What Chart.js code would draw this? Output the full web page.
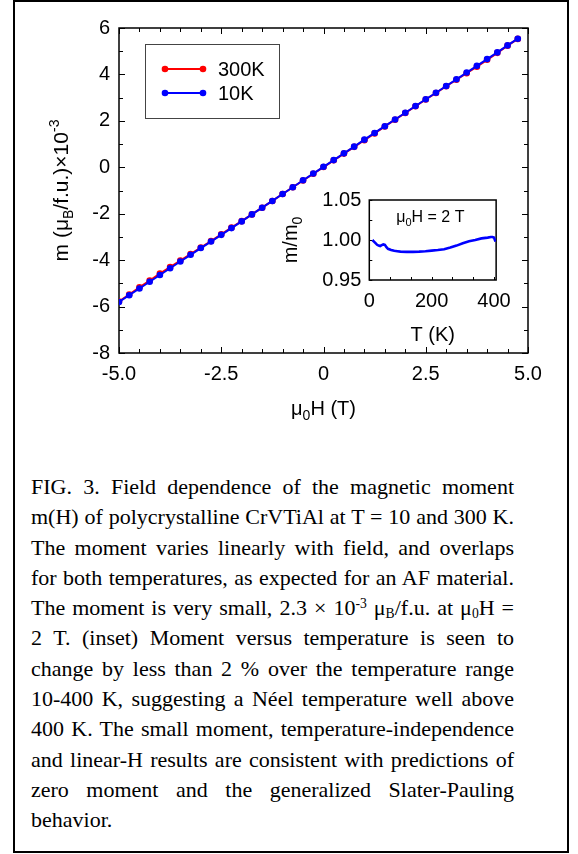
<!DOCTYPE html>
<html><head><meta charset="utf-8">
<script src="https://cdn.jsdelivr.net/npm/chart.js@4/dist/chart.umd.min.js"></script>
<style>
html,body{margin:0;padding:0;background:#fff;}
body{width:578px;height:854px;position:relative;overflow:hidden;}
#frame{position:absolute;left:13px;top:0;width:556px;height:853px;border:2px solid #000;box-sizing:border-box;}
#main{position:absolute;left:0;top:0;}
#inset{position:absolute;left:270px;top:180px;}
#cap{position:absolute;left:31px;top:472px;width:483px;font-family:"Liberation Serif","Times New Roman",serif;font-size:22px;line-height:30.3px;color:#000;}
#cap div{text-align:justify;text-align-last:justify;}
#cap div.last{text-align:left;text-align-last:left;}
#cap sup,#cap sub{font-size:0.62em;line-height:0;position:relative;vertical-align:baseline;}
#cap sup{top:-0.55em;}
#cap sub{top:0.2em;}
</style>
</head>
<body>
<div id="frame"></div>
<canvas id="main" width="578" height="460" style="width:578px;height:460px"></canvas>
<canvas id="inset" width="250" height="170" style="width:250px;height:170px"></canvas>
<div id="cap">
<div>FIG. 3. Field dependence of the magnetic moment</div>
<div>m(H) of polycrystalline CrVTiAl at T = 10 and 300 K.</div>
<div>The moment varies linearly with field, and overlaps</div>
<div>for both temperatures, as expected for an AF material.</div>
<div>The moment is very small, 2.3 × 10<sup>-3</sup> μ<sub>B</sub>/f.u. at μ<sub>0</sub>H =</div>
<div>2 T. (inset) Moment versus temperature is seen to</div>
<div>change by less than 2 % over the temperature range</div>
<div>10-400 K, suggesting a Néel temperature well above</div>
<div>400 K. The small moment, temperature-independence</div>
<div>and linear-H results are consistent with predictions of</div>
<div>zero moment and the generalized Slater-Pauling</div>
<div class="last">behavior.</div>
</div>
<script>
// ---------- data ----------
const fieldT = [-5.00,-4.75,-4.50,-4.25,-4.00,-3.75,-3.50,-3.25,-3.00,-2.75,
                -2.50,-2.25,-2.00,-1.75,-1.50,-1.25,-1.00,-0.75,-0.50,-0.25,
                 0.00, 0.25, 0.50, 0.75, 1.00, 1.25, 1.50, 1.75, 2.00, 2.25,
                 2.50, 2.75, 3.00, 3.25, 3.50, 3.75, 4.00, 4.25, 4.50, 4.75];
const moment300K = [-5.78,-5.48,-5.17,-4.88,-4.58,-4.30,-4.02,-3.74,-3.46,-3.18,
                    -2.89,-2.60,-2.32,-2.03,-1.74,-1.45,-1.15,-0.86,-0.57,-0.28,
                     0.01, 0.30, 0.59, 0.88, 1.17, 1.46, 1.76, 2.05, 2.34, 2.63,
                     2.92, 3.20, 3.49, 3.77, 4.05, 4.33, 4.63, 4.93, 5.24, 5.53];
const moment10K = [-5.80,-5.51,-5.22,-4.93,-4.64,-4.35,-4.06,-3.77,-3.48,-3.20,
                   -2.91,-2.62,-2.33,-2.03,-1.74,-1.45,-1.15,-0.86,-0.56,-0.27,
                    0.02, 0.31, 0.60, 0.89, 1.19, 1.48, 1.77, 2.06, 2.35, 2.64,
                    2.93, 3.21, 3.50, 3.79, 4.08, 4.37, 4.66, 4.95, 5.25, 5.54];
const seriesNames = ['300K','10K'];
const seriesColors = ['#ff0000','#0000ff'];
const xTickValues = [-5,-2.5,0,2.5,5];
const xTickLabels = ['-5.0','-2.5','0','2.5','5.0'];
const yTickValues = [-8,-6,-4,-2,0,2,4,6];
const yTickLabels = ['-8','-6','-4','-2','0','2','4','6'];

const insetTemp  = [10,15,20,25,30,35,40,45,50,55,60,70,80,90,100,120,140,160,180,200,
                    220,240,260,280,300,320,340,360,380,390,395,400,405];
const insetRatio = [1.000,0.998,0.996,0.994,0.993,0.9925,0.9935,0.9945,0.994,0.991,0.989,0.9875,0.9865,0.986,0.9855,0.9852,0.9852,0.9855,0.986,0.9867,
                    0.9875,0.9885,0.9905,0.993,0.996,0.9985,1.000,1.002,1.003,1.0038,1.0038,1.003,0.998];
const insetXTicks = [0,200,400];
const insetXLabels = ['0','200','400'];
const insetYTicks = [0.95,1.00,1.05];
const insetYLabels = ['0.95','1.00','1.05'];

// ---------- helpers ----------
const SANS = '"Liberation Sans", Arial, sans-serif';
function richWidth(ctx, parts){
  let w=0; for(const p of parts){ctx.font = p.s+'px '+SANS; w+=ctx.measureText(p.t).width;} return w;
}
function drawRich(ctx, parts, x, y){ // centered at x, baseline y
  let cx = x - richWidth(ctx, parts)/2;
  for(const p of parts){
    ctx.font = p.s+'px '+SANS;
    ctx.fillText(p.t, cx, y + (p.dy||0));
    cx += ctx.measureText(p.t).width;
  }
}
function tickLoop(min, max, step, fn){
  const n = Math.round((max-min)/step);
  for(let i=0;i<=n;i++) fn(min + i*step);
}

Chart.defaults.font.family = SANS;
Chart.defaults.color = '#000';

// ---------- main chart ----------
const mainDecor = {
  id:'mainDecor',
  beforeDatasetsDraw(chart){
    const {ctx, chartArea:a, scales:{x,y}} = chart;
    ctx.save();
    ctx.strokeStyle='#000';
    ctx.lineWidth=1.5;
    ctx.strokeRect(a.left, a.top, a.right-a.left, a.bottom-a.top);
    ctx.lineWidth=1;
    ctx.beginPath();
    tickLoop(-5, 5, 0.5, v=>{
      const px = Math.round(x.getPixelForValue(v))+0.5;
      const major = Math.abs(v/2.5 - Math.round(v/2.5))<1e-6;
      const L = major?6:4;
      ctx.moveTo(px,a.bottom); ctx.lineTo(px,a.bottom-L);
      ctx.moveTo(px,a.top); ctx.lineTo(px,a.top+L);
    });
    tickLoop(-8, 6, 1, v=>{
      const py = Math.round(y.getPixelForValue(v))+0.5;
      const major = v%2===0;
      const L = major?6:4;
      ctx.moveTo(a.left,py); ctx.lineTo(a.left+L,py);
      ctx.moveTo(a.right,py); ctx.lineTo(a.right-L,py);
    });
    ctx.stroke();
    ctx.restore();
  },
  afterDraw(chart){
    const {ctx, chartArea:a} = chart;
    ctx.save();
    ctx.fillStyle='#000';
    ctx.textBaseline='alphabetic';
    ctx.textAlign='left';
    // x title
    drawRich(ctx,[{t:'\u03bc',s:20},{t:'0',s:14,dy:5},{t:'H (T)',s:20}], (a.left+a.right)/2, a.bottom+62);
    // y title
    ctx.save();
    ctx.translate(a.left-51, (a.top+a.bottom)/2);
    ctx.rotate(-Math.PI/2);
    drawRich(ctx,[{t:'m (\u03bc',s:21},{t:'B',s:14,dy:5},{t:'/f.u.)\u00d710',s:21},{t:'-3',s:14,dy:-9}],0,0);
    ctx.restore();
    // legend
    const lx = a.left+26, ly = a.top+16;
    ctx.strokeStyle='#444'; ctx.lineWidth=1;
    ctx.strokeRect(lx+0.5, ly+0.5, 134, 74);
    chart.data.datasets.forEach((ds,i)=>{
      const ry = ly+25+i*24;
      ctx.strokeStyle=ds.borderColor; ctx.fillStyle=ds.borderColor; ctx.lineWidth=2;
      ctx.beginPath(); ctx.moveTo(lx+20,ry); ctx.lineTo(lx+58,ry); ctx.stroke();
      [lx+20,lx+58].forEach(px=>{ctx.beginPath(); ctx.arc(px,ry,3.3,0,Math.PI*2); ctx.fill();});
      ctx.fillStyle='#000'; ctx.font='20px '+SANS;
      ctx.fillText(ds.label, lx+73, ry+7);
    });
    ctx.restore();
  }
};

new Chart(document.getElementById('main'), {
  type:'scatter',
  data:{datasets:[
    {label:seriesNames[0], data:fieldT.map((h,i)=>({x:h,y:moment300K[i]})), showLine:true,
     borderColor:seriesColors[0], backgroundColor:seriesColors[0], borderWidth:2, pointRadius:3.3, pointBorderWidth:0, order:1},
    {label:seriesNames[1], data:fieldT.map((h,i)=>({x:h,y:moment10K[i]})), showLine:true,
     borderColor:seriesColors[1], backgroundColor:seriesColors[1], borderWidth:2, pointRadius:3.3, pointBorderWidth:0, order:0}
  ]},
  options:{
    responsive:false, animation:false, events:[], devicePixelRatio:1,
    layout:{padding:{top:28,right:50,bottom:47,left:0}},
    plugins:{legend:{display:false}, tooltip:{enabled:false}},
    scales:{
      x:{type:'linear', min:-5, max:5,
         grid:{display:false, drawTicks:false}, border:{display:false},
         afterBuildTicks:s=>{s.ticks = xTickValues.map(v=>({value:v}));},
         afterFit:s=>{s.height=60;},
         ticks:{font:{size:20}, color:'#000', padding:9, maxRotation:0, autoSkip:false,
                callback:(v,i)=>xTickLabels[i]}},
      y:{type:'linear', min:-8, max:6,
         grid:{display:false, drawTicks:false}, border:{display:false},
         afterBuildTicks:s=>{s.ticks = yTickValues.map(v=>({value:v}));},
         afterFit:s=>{s.width=119;},
         ticks:{font:{size:20}, color:'#000', padding:9, autoSkip:false,
                callback:(v,i)=>yTickLabels[i]}}
    }
  },
  plugins:[mainDecor]
});

// ---------- inset ----------
const insetDecor = {
  id:'insetDecor',
  beforeDatasetsDraw(chart){
    const {ctx, chartArea:a, scales:{x,y}} = chart;
    ctx.save();
    ctx.strokeStyle='#000'; ctx.lineWidth=1.5;
    ctx.strokeRect(a.left, a.top, a.right-a.left, a.bottom-a.top);
    ctx.lineWidth=1;
    ctx.beginPath();
    tickLoop(0, 400, 200/3, v=>{
      const px = Math.round(x.getPixelForValue(v))+0.5;
      ctx.moveTo(px,a.bottom); ctx.lineTo(px,a.bottom-3);
    });
    tickLoop(0.95, 1.05, 0.025, v=>{
      const py = Math.round(y.getPixelForValue(v))+0.5;
      ctx.moveTo(a.left,py); ctx.lineTo(a.left+3,py);
    });
    ctx.stroke();
    ctx.restore();
  },
  afterDraw(chart){
    const {ctx, chartArea:a} = chart;
    ctx.save();
    ctx.fillStyle='#000';
    ctx.textBaseline='alphabetic';
    drawRich(ctx,[{t:'T (K)',s:20}], (a.left+a.right)/2, a.bottom+61);
    ctx.save();
    ctx.translate(a.left-72, (a.top+a.bottom)/2);
    ctx.rotate(-Math.PI/2);
    drawRich(ctx,[{t:'m/m',s:20},{t:'0',s:14,dy:5}],0,0);
    ctx.restore();
    // annotation
    const parts=[{t:'\u03bc',s:16},{t:'0',s:11,dy:4},{t:'H = 2 T',s:16}];
    drawRich(ctx, parts, a.left+61, a.top+22);
    ctx.restore();
  }
};

new Chart(document.getElementById('inset'), {
  type:'scatter',
  data:{datasets:[
    {label:'m/m0', data:insetTemp.map((t,i)=>({x:t,y:insetRatio[i]})), showLine:true,
     borderColor:'#0000ff', backgroundColor:'#0000ff', borderWidth:2.6, pointRadius:0, tension:0}
  ]},
  options:{
    responsive:false, animation:false, events:[], devicePixelRatio:1,
    layout:{padding:{top:15,right:21,bottom:20,left:0}},
    plugins:{legend:{display:false}, tooltip:{enabled:false}},
    scales:{
      x:{type:'linear', min:0, max:407,
         grid:{display:false, drawTicks:false}, border:{display:false},
         afterBuildTicks:s=>{s.ticks = insetXTicks.map(v=>({value:v}));},
         afterFit:s=>{s.height=50;},
         ticks:{font:{size:20}, color:'#000', padding:9, maxRotation:0, autoSkip:false,
                callback:(v,i)=>insetXLabels[i]}},
      y:{type:'linear', min:0.95, max:1.05,
         grid:{display:false, drawTicks:false}, border:{display:false},
         afterBuildTicks:s=>{s.ticks = insetYTicks.map(v=>({value:v}));},
         afterFit:s=>{s.width=99.3;},
         ticks:{font:{size:20}, color:'#000', padding:8, autoSkip:false,
                callback:(v,i)=>insetYLabels[i]}}
    }
  },
  plugins:[insetDecor]
});
</script>
</body></html>
